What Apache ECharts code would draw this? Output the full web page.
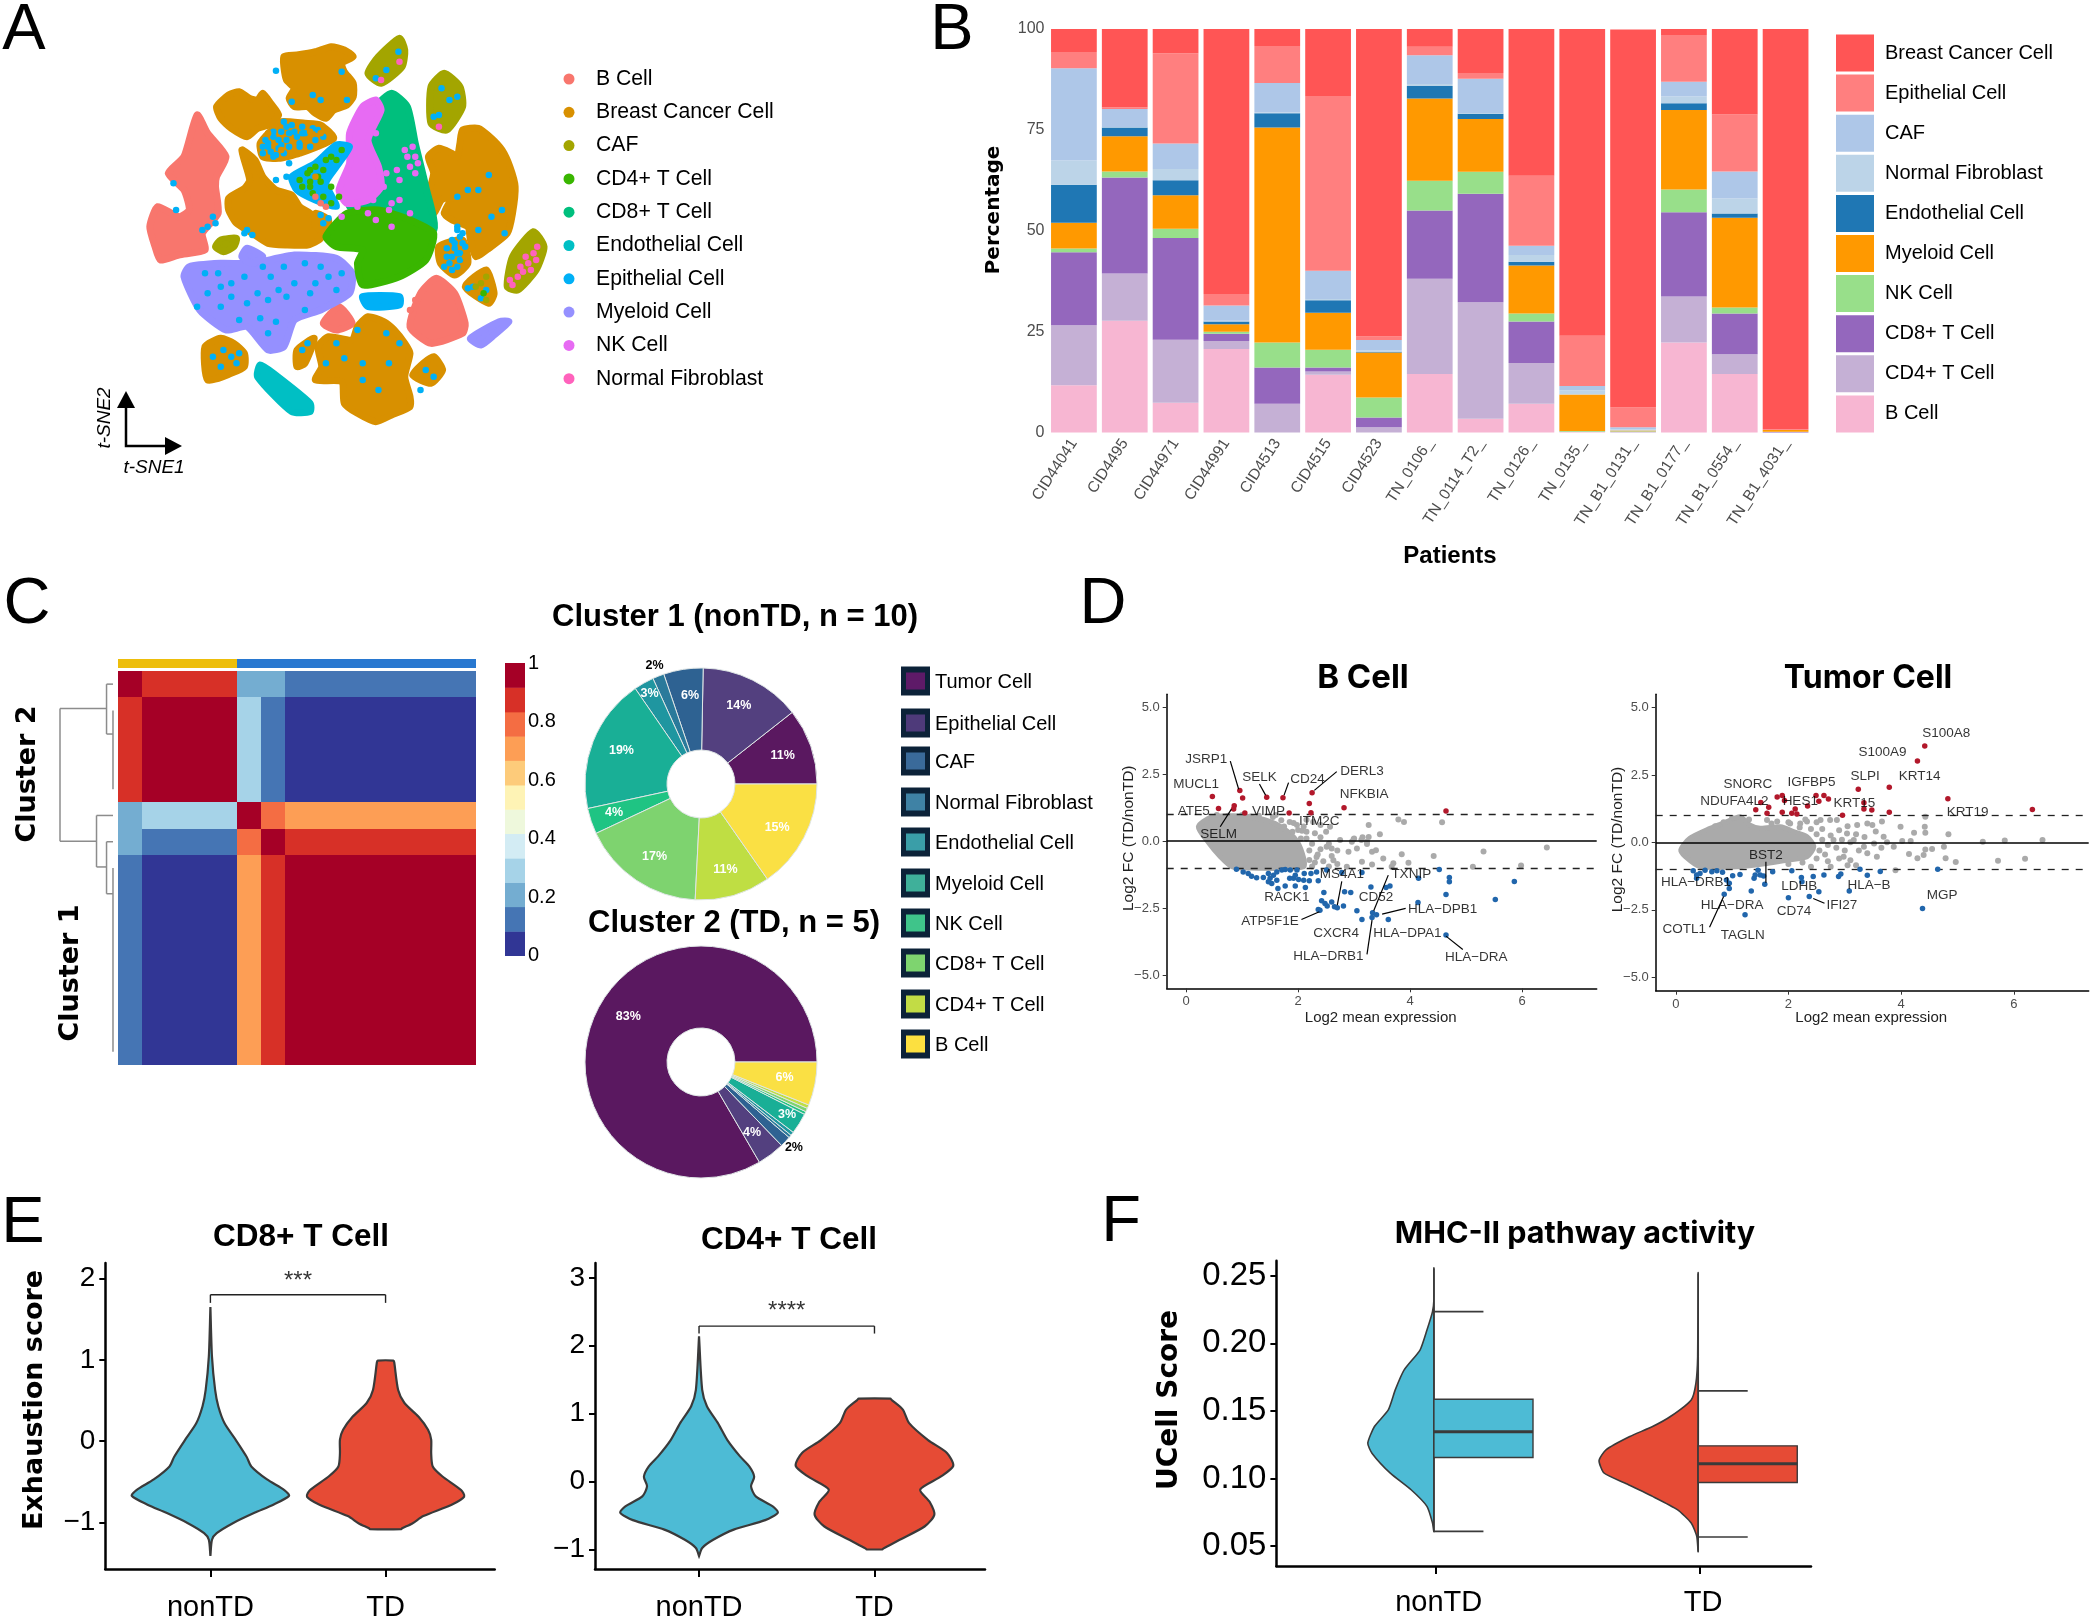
<!DOCTYPE html>
<html><head><meta charset="utf-8">
<style>html,body{margin:0;padding:0;background:#fff}#c{width:2096px;height:1624px}</style>
<script src="https://cdn.jsdelivr.net/npm/echarts@6/dist/echarts.min.js"></script>
</head><body><div id="c"></div>
<script>
// ---------- Panel A: t-SNE regions (t-SNE plot units), one array per cell type
const tsneBreast = [
 [540,170,565,165,600,155,630,140,655,150,672,170,650,190,655,215,672,250,672,290,660,315,635,330,620,355,600,340,585,320,560,320,550,295,560,265,545,240,540,200],
 [412,320,435,285,455,275,475,295,490,300,500,280,515,310,530,345,510,375,490,385,470,410,440,385,420,355],
 [460,450,485,480,500,530,525,570,555,585,570,620,590,640,608,680,610,715,585,735,545,735,510,730,480,700,450,670,435,630,435,595,465,565,475,540],
 [600,640,625,660,620,690,600,680],
 [880,390,910,385,935,415,955,450,970,500,980,560,975,640,965,700,930,745,905,770,895,720,890,680,860,660,845,640,860,590,840,600,825,640,815,590,825,520,815,470,835,445,860,460,870,470,875,430],
 [700,950,730,965,750,990,770,1030,780,1060,770,1130,780,1190,780,1220,745,1245,715,1265,680,1240,655,1210,650,1145,600,1140,612,1100,605,1040,625,1010,670,1020,680,980],
 [390,1040,420,1015,445,1030,465,1060,465,1100,440,1120,395,1140],
 [565,1050,598,1015,580,1090,565,1100],
 [805,1090,825,1070,842,1110,820,1150,785,1125],
 [495,430,520,385,535,365,580,370,610,375,635,415,570,460,530,475,500,470],
 [835,740,880,720,890,790,865,825,838,790],[885,860,925,810,940,880,930,910]];
const tsneBCell = [
 [375,345,395,400,430,470,412,530,410,560,415,640,385,700,390,750,340,765,305,780,295,740,285,680,300,620,340,650,360,630,350,570,320,520,350,470],
 [800,880,830,835,865,880,885,970,880,1000,820,1030,780,980],
 [615,970,645,920,670,970,640,990]];
const tsneCAF = [
 [760,115,770,150,765,200,725,250,700,220,720,170],
 [845,220,875,260,880,320,850,390,820,370,820,260],
 [1015,695,1035,740,1020,810,985,870,965,860,975,770],
 [420,720,450,715,445,740,425,755,410,740]];
const tsneCD8 = [[745,280,775,320,790,430,810,560,825,690,720,650,665,620,690,520,700,410,715,320]];
const tsneNK = [[715,300,725,330,700,420,720,500,725,560,700,600,660,610,645,570,665,490,665,400,690,320]];
const tsneCD4 = [[660,640,720,630,780,660,825,700,810,780,760,830,690,855,680,790,690,750,640,740,620,710]];
const tsneMyeloid = [
 [360,800,420,790,480,790,560,765,640,775,670,820,665,880,610,930,560,960,540,1040,510,1050,470,980,430,990,380,930,350,830],
 [470,745,500,770,480,790,460,770],[895,1015,950,965,968,965,940,1005,915,1035]];
const tsneEndothelial = [[495,1095,520,1120,590,1210,590,1235,555,1235,490,1130]];
const tsneEpithelial = [
 [690,890,760,890,760,915,700,920],
 [555,530,600,490,640,435,665,440,640,500,620,550,640,620,600,600,565,570]];
const dotsEpithelial = [[525,212],[555,305],[595,285],[650,215],[660,300],[610,300],[540,365],[555,375],[575,380],[595,385],[520,395],[535,395],[550,400],[565,410],[530,420],[510,440],[515,455],[540,460],[550,440],[505,420],[570,430],[590,440],[545,380],[560,395],[535,435],[525,465],[580,400],[605,390],[500,460],[615,410],[545,420],[510,430],[530,445],[570,440],[520,470],[550,490],[525,540],[545,530],[465,700],[480,705],[470,690],[610,645],[615,670],[625,655],[335,630],[330,550],[405,650],[395,680],[410,670],[385,690],[390,820],[415,820],[440,850],[420,860],[465,830],[500,800],[515,830],[540,800],[580,790],[610,800],[625,830],[650,820],[600,850],[560,850],[530,870],[490,880],[510,900],[545,890],[470,910],[440,890],[395,880],[375,920],[420,920],[580,930],[525,965],[495,955],[455,960],[510,1000],[640,870],[590,880],[640,1030],[655,1075],[690,1090],[720,1170],[690,1140],[740,1090],[620,1090],[760,1030],[735,1000],[680,990],[425,1050],[440,1070],[405,1070],[450,1090],[420,1100],[455,1060],[575,1050],[585,1030],[810,1110],[825,1130],[800,1170],[930,525],[910,570],[890,570],[870,590],[955,630],[935,650],[910,690],[960,700],[880,700],[870,680],[860,720],[875,760],[850,770],[870,800],[885,740],[865,745],[855,790],[870,690],[875,710],[865,730],[880,730],[870,760],[860,770],[875,780],[850,745],[845,800],[860,810],[900,860],[925,870],[890,865],[915,895],[735,210],[715,235],[758,155],[840,265],[855,300],[870,290],[835,345],[825,350],[500,440],[520,410],[600,420],[575,400]];
const dotsNK = [[770,450],[780,500],[730,560],[700,640],[740,630],[790,470],[680,620],[710,600],[760,600],[745,610],[715,660],[650,650],[745,680],[780,640],[735,520],[760,540],[715,400],[785,440],[775,470],[790,520],[795,490],[755,510]];
const dotsFibroblast = [[1015,760],[1005,790],[1020,780],[990,800],[985,830],[975,855],[1000,770],[1010,810],[995,815],[970,840],[1022,740],[835,380],[725,240],[760,185]];
const dotsCD4 = [[570,540],[585,520],[600,500],[615,510],[630,470],[650,450],[640,480],[575,560],[595,580],[615,590],[630,610],[605,530],[590,545],[590,560],[610,545],[590,510],[620,480],[645,590],[630,560],[920,880]];
const dotsCAF = [[430,730],[925,830],[915,850],[905,860],[925,900]];
const dotsBreast = [[510,400],[580,420],[610,400],[590,395],[535,450],[885,770],[600,530]];
const dotsB = [[600,590],[610,610],[620,620],[790,900],[780,930]];
const tsneNames = ['B Cell','Breast Cancer Cell','CAF','CD4+ T Cell','CD8+ T Cell','Endothelial Cell','Epithelial Cell','Myeloid Cell','NK Cell','Normal Fibroblast'];
const tsneColors = ['#F8766D','#D89000','#A3A500','#39B600','#00BF7D','#00BFC4','#00B0F6','#9590FF','#E76BF3','#FF62BC'];

// ---------- Panel B
const patients = ['CID44041','CID4495','CID44971','CID44991','CID4513','CID4515','CID4523','TN_0106_','TN_0114_T2_','TN_0126_','TN_0135_','TN_B1_0131_','TN_B1_0177_','TN_B1_0554_','TN_B1_4031_'];
const pctBCell       = [11.7,27.7,7.4,20.7,0,14.3,0,14.5,3.4,7.1,0.1,0,22.3,14.5,0];
const pctCD4         = [14.9,11.7,15.6,2,7.1,0.8,1.3,23.6,28.9,10.1,0,0.1,11.4,4.9,0];
const pctCD8         = [18.1,23.8,25.2,1.8,9,1,2.4,16.9,26.9,10.3,0.1,0.1,20.9,10.1,0.1];
const pctNK          = [0.9,1.5,2.3,0.5,6.2,4.4,5,7.4,5.4,2,0.2,0.1,5.6,1.5,0.1];
const pctMyeloid     = [6.4,8.7,8.3,1.8,53.3,9.2,11.1,20.4,13.1,11.9,9,0.2,19.7,22.2,0.4];
const pctEndothelial = [9.4,2.2,3.7,0.7,3.5,3.1,0.2,3.1,1.3,0.9,0,0,1.7,1.1,0];
const pctFibroblast  = [6,0.1,2.8,0.2,0.2,0.3,0.4,0.5,0.1,1.7,1.1,0.3,1.7,3.7,0];
const pctCAF         = [22.9,4.5,6.3,3.8,7.3,7,2.5,7.1,8.6,2.3,1,0.5,3.6,6.7,0];
const pctEpithelial  = [4,0.4,22.4,2.8,9.2,43.3,0.9,2.1,1.4,17.3,12.5,4.9,11.6,14.1,0.2];
const pctBreast      = [5.7,19.4,6,65.7,4.2,16.6,76.2,4.4,10.9,36.4,76,93.7,1.5,21.2,99.2];
const stackNames = ['B Cell','CD4+ T Cell','CD8+ T Cell','NK Cell','Myeloid Cell','Endothelial Cell','Normal Fibroblast','CAF','Epithelial Cell','Breast Cancer Cell'];
const stackColors = ['#F7B6D2','#C5B0D5','#9467BD','#98DF8A','#FF9900','#1F77B4','#BCD4E8','#AEC7E8','#FF7F7F','#FF5555'];
const stackLegend = ['Breast Cancer Cell','Epithelial Cell','CAF','Normal Fibroblast','Endothelial Cell','Myeloid Cell','NK Cell','CD8+ T Cell','CD4+ T Cell','B Cell'];

// ---------- Panel C
const row0 = [1,.88,.88,.88,.88,.21,.21,.13,.13,.13,.13,.13,.13,.13,.13];
const row1 = [.88,1,1,1,1,.29,.13,.04,.04,.04,.04,.04,.04,.04,.04];
const row5 = [.21,.29,.29,.29,.29,1,.79,.71,.71,.71,.71,.71,.71,.71,.71];
const row6 = [.21,.13,.13,.13,.13,.79,1,.88,.88,.88,.88,.88,.88,.88,.88];
const row7 = [.13,.04,.04,.04,.04,.71,.88,1,1,1,1,1,1,1,1];
const consensus = [row0,row1,row1,row1,row1,row5,row6,row7,row7,row7,row7,row7,row7,row7,row7];
const annotation = [1,1,1,1,1,2,2,2,2,2,2,2,2,2,2];
const annotationColors = ['','#EDBE0B','#2878D0'];
const binEdges = [0,.083,.167,.25,.333,.417,.5,.583,.667,.75,.833,.917,1];
const binColors = ['#313695','#4575B4','#74ADD1','#A6D3E8','#D3ECF4','#EEF8DC','#FEF3B5','#FDCB7A','#FD9E55','#F46D43','#D73027','#A50026'];
const dendroSegments = [[81,1.43,81,6.48],[81,1.43,16,1.43],[16,.5,16,2.4],[16,.5,7,.5],[16,2.4,7,2.4],[7,1.5,7,4.5],[81,6.48,30,6.48],[30,5.5,30,7.46],[30,5.5,7,5.5],[30,7.46,16,7.46],[16,6.5,16,8.48],[16,6.5,7,6.5],[16,8.48,7,8.48],[7,7.5,7,14.5]];
const pieNames = ['Tumor Cell','Epithelial Cell','CAF','Normal Fibroblast','Endothelial Cell','Myeloid Cell','NK Cell','CD8+ T Cell','CD4+ T Cell','B Cell'];
const pieColors = ['#5A1860','#53407F','#2E6292','#2A7A9B','#1F96A0','#19AF96','#1FC483','#7ED36F','#BFDE43','#FAE044'];
const pieLegendColors = ['#5E1A68','#4E3A7A','#3A6A9A','#3F82A5','#3A9EA8','#3FB09A','#3FC48A','#7ED46F','#C2DC45','#FCE040'];
const cluster1Values = [10.6,14.1,5.5,1.6,2.8,18.8,3.6,17.2,10.5,15.3];
const cluster1Labels = ['11%','14%','6%','2%','3%','19%','4%','17%','11%','15%'];
const cluster2Values = [82.9,3.8,1.5,0.4,0.5,2.9,0.4,0.5,0.5,6];
const cluster2Labels = ['83%','4%','2%','','','3%','','','','6%'];

// ---------- Panel D: B Cell
const bGray = [[1.92,.68],[2.07,.39],[2.27,.72],[2.4,.6],[2.57,.54],[3.26,.6],[3.23,-.02],[3.26,.16],[3.46,.26],[3.79,.81],[3.89,.72],[2.99,.07],[3.13,.04],[3.23,-.11],[3.05,-.27],[3.32,-.4],[3.39,-.34],[3.52,-.65],[3.7,-.83],[3.85,-.49],[3.97,-.81],[4.42,-.55],[4.57,.71],[5.31,-.39],[6.44,-.24],[5.12,-.96],[5.98,-.91],[3.14,-.77],[3.32,-.87],[3.67,-.96],[2.87,-.96],[2.63,-.71],[2.33,-.59],[2.51,-.21],[2.6,-.27],[2.96,-.02],[2.75,.04],[2.9,-.4],[3.0,.1],[3.15,.15],
 [.55,.98],[.75,.95],[1.0,.98],[1.3,.95],[1.55,.9],[1.7,.78],[1.85,.72],[1.98,.6],[2.1,.55],[2.15,.35],[2.0,.42],[2.15,.1],[2.3,.3],[2.4,.15],[2.5,.35],[2.25,-.1],[2.4,-.3],[2.55,-.1],[2.35,-.5],[2.2,-.7],[2.45,-.75],[2.25,-.95],[2.6,-.55],[2.7,-.85],[2.55,-.95],[2.7,-.35],[1.75,.55],[1.9,.35],[2.05,.1],[2.2,-.35],[2.3,-.8],[2.15,.8],[1.6,.98],[1.15,.92]];
const bRed = [[.47,1.67],[.58,1.22],[.86,1.32],[.85,1.2],[.96,1.89],[1.01,1.61],[1.05,1.05],[1.44,1.64],[1.73,1.62],[1.84,1.05],[2.2,1.41],[2.23,1.06],[2.25,1.81],[2.82,1.25],[4.64,1.13]];
const bBlue = [[.9,-1.05],[1.02,-1.15],[1.11,-1.21],[1.17,-1.31],[1.26,-1.37],[1.38,-1.36],[1.47,-1.21],[1.5,-1.39],[1.56,-1.27],[1.62,-1.15],[1.53,-1.58],[1.47,-1.52],[1.62,-1.46],[1.64,-1.77],[1.71,-1.08],[1.77,-1.06],[1.86,-1.08],[1.98,-1.08],[1.77,-1.68],[1.85,-1.39],[1.92,-1.39],[1.95,-1.27],[1.95,-1.68],[2.01,-1.43],[2.1,-1.46],[2.13,-1.73],[2.2,-1.48],[2.23,-1.21],[2.11,-1.21],[2.36,-1.48],[2.33,-1.15],[2.51,-1.08],[2.46,-1.92],[2.42,-2.23],[2.48,-2.33],[2.52,-2.42],[2.6,-2.27],[2.65,-2.45],[2.7,-2.49],[2.81,-2.42],[2.83,-1.89],[2.94,-1.92],[2.39,-2.58],[2.36,-2.55],[2.78,-1.17],[3.14,-1.17],[3.3,-1.71],[3.05,-2.6],[3.14,-2.93],[3.33,-2.68],[3.4,-2.75],[3.32,-2.85],[3.57,-1.73],[3.64,-1.68],[3.61,-2.93],[4.15,-1.39],[4.14,-2.29],[4.52,-1.06],[4.64,-1.99],[4.7,-1.36],[4.7,-1.52],[4.64,-3.51],[5.52,-2.18],[5.86,-1.51]];
const bDense = [.22,.54,.45,.9,.85,.95,1.3,.85,1.6,.65,1.9,.2,2.05,-.3,2.1,-.95,1.14,-1,.82,-.95,.6,-.55,.4,-.05];
const bLabels = [['JSRP1',.36,3.05],['MUCL1',.18,2.14],['SELK',1.31,2.39],['CD24',2.17,2.31],['DERL3',3.14,2.6],['NFKBIA',3.18,1.74],['ATF5',.14,1.13],['VIMP',1.47,1.12],['ITM2C',2.38,.73],['SELM',.58,.25],['MS4A1',2.78,-1.25],['TXNIP',4.02,-1.23],['RACK1',1.8,-2.1],['CD52',3.39,-2.09],['ATP5F1E',1.5,-2.99],['HLA\u2212DPB1',4.58,-2.53],['CXCR4',2.68,-3.45],['HLA\u2212DPA1',3.95,-3.45],['HLA\u2212DRB1',2.54,-4.31],['HLA\u2212DRA',5.18,-4.33]];
const bLinks = [[.79,2.99,.94,1.94],[1.31,2.14,1.42,1.72],[1.83,2.19,1.75,1.72],[2.69,2.6,2.29,1.9],[.81,1.2,.61,.54],[2.78,-1.5,2.7,-2.39],[3.61,-1.27,3.35,-2.6],[3.92,-2.51,3.5,-2.73],[2.06,-2.93,2.38,-2.64],[3.23,-4.23,3.32,-2.95],[4.94,-4.05,4.64,-3.55]];

// ---------- Panel D: Tumor Cell
const tGray = [[1.62,.83],[1.8,.77],[2.03,.7],[2.21,.7],[2.33,.77],[2.57,.83],[2.74,.83],[2.86,.83],[3.22,.64],[3.4,.7],[3.49,.64],[3.66,.77],[3.69,.21],[3.99,.58],[4.23,.36],[4.43,.95],[4.42,.58],[4.43,.36],[4.84,.3],[4.02,.05],[4.17,.05],[3.87,-.16],[4.14,-.43],[4.29,-.59],[4.4,-.47],[4.43,-.26],[4.55,-.25],[4.76,-.16],[4.79,-.59],[4.97,-.73],[5.45,.02],[5.84,.07],[6.51,.09],[5.72,-.68],[6.2,-.61],[3.9,-1.03],[3.52,-.04],[3.16,.09],[2.98,-.53],[3.1,-.66],[3.57,-.53],[3.34,-.16],[2.8,.09],[3.04,.33],
 [2.5,.3],[2.6,.1],[2.7,-.1],[2.55,-.3],[2.65,-.45],[2.75,.25],[2.85,-.2],[2.95,.1],[2.6,.5],[2.4,.5],[2.2,.55],[2.0,.75],[1.7,.7],[1.3,.85],[1.0,.9],[.85,.75],[.7,.6],[2.5,-.6],[2.7,-.7],[2.9,-.6],[3.0,-.3],[3.1,0],[3.2,.3],[3.25,-.3],[3.4,-.4],[3.35,.2],[3.55,.4],[3.65,-.2],[3.75,0],[2.25,-.75],[2.0,-.8],[2.4,-.9],[2.75,-.9],[3.05,-.85],[3.2,-.85],[2.9,.45],[3.05,.6],[2.5,.75],[2.3,.85]];
const tRed = [[1.42,1.21],[1.51,1.48],[1.62,1.08],[1.65,1.3],[1.8,1.68],[1.89,1.74],[1.89,1.12],[1.93,1.55],[2.06,1.08],[2.12,1.24],[2.15,1.05],[2.34,1.35],[2.49,1.74],[2.54,1.52],[2.63,1.74],[2.71,1.61],[2.96,1.01],[3.24,1.97],[3.34,1.47],[3.34,1.24],[3.48,1.2],[3.79,2.04],[3.79,1.12],[4.29,3.02],[4.42,3.57],[4.83,1.62],[6.33,1.22]];
const tBlue = [[.31,-1.05],[.37,-1.21],[.37,-1.33],[.43,-1.15],[.52,-1.03],[.64,-1.09],[.73,-1.05],[.83,-1.11],[.9,-1.4],[.95,-1.52],[.95,-1.71],[.86,-1.92],[1.01,-1.24],[1.14,-1.19],[1.34,-1.8],[1.23,-2.68],[1.39,-1.33],[1.41,-1.21],[1.46,-1.03],[1.5,-1.21],[1.56,-1.25],[1.58,-1.55],[1.72,-1.09],[2.06,-1.05],[2,-2.05],[2.23,-1.3],[2.24,-1.46],[2.37,-2.01],[2.44,-1.27],[2.54,-1.83],[2.63,-1.21],[2.89,-1.27],[2.93,-1.17],[3.08,-1.8],[3.27,-1],[3.4,-1.22],[3.63,-1.08],[4.38,-2.45],[4.65,-1]];
const tDense = [.09,-.28,.25,.15,.61,.52,.91,.77,1.14,.95,1.32,.64,1.5,.52,1.86,.58,2.09,.4,2.33,.21,2.45,-.16,2.33,-.53,1.97,-.66,1.62,-.78,1.14,-.9,.43,-.9,.17,-.53];
const tLabels = [['S100A8',4.8,4.04],['S100A9',3.67,3.33],['SLPI',3.36,2.46],['KRT14',4.33,2.46],['SNORC',1.28,2.16],['IGFBP5',2.41,2.22],['NDUFA4L2',1.04,1.52],['HES1',2.21,1.52],['KRT15',3.17,1.45],['KRT19',5.18,1.11],['BST2',1.6,-.48],['HLA\u2212DRB1',.36,-1.49],['LDHB',2.19,-1.61],['HLA\u2212B',3.43,-1.6],['MGP',4.73,-1.97],['HLA\u2212DRA',1,-2.32],['IFI27',2.95,-2.34],['CD74',2.1,-2.56],['COTL1',.15,-3.23],['TAGLN',1.19,-3.45]];
const tLinks = [[1.6,-.72,1.6,-1.5],[.6,-3.15,.85,-2.01],[2.64,-2.26,2.44,-2.08]];
const maTicksX = [0,2,4,6];
const maTicksY = [-5,-2.5,0,2.5,5];

// ---------- Panel E violin profiles: score, relative width
const cd8NonScore = [1.65,1.04,.63,.43,.22,.02,-.19,-.31,-.47,-.6,-.67,-.78,-.88,-1.01,-1.13,-1.21,-1.41];
const cd8NonWidth = [0,.02,.06,.1,.18,.32,.46,.52,.72,.94,1,.8,.56,.28,.08,.02,0];
const cd8TdScore = [.99,.97,.63,.47,.3,.14,.02,-.15,-.31,-.43,-.6,-.68,-.78,-.92,-1.01,-1.07,-1.08];
const cd8TdWidth = [.1,.11,.16,.24,.42,.54,.58,.58,.6,.72,.96,1,.84,.48,.34,.21,.2];
const cd4NonScore = [2.14,1.35,1.11,.86,.61,.37,.22,.07,-.07,-.22,-.37,-.46,-.57,-.71,-.86,-.98,-1.1];
const cd4NonWidth = [0,.04,.1,.24,.36,.52,.64,.7,.66,.72,.94,1,.84,.44,.18,.04,0];
const cd4TdScore = [1.22,1.2,1.06,.86,.61,.42,.23,.07,-.12,-.3,-.49,-.66,-.86,-.99,-1];
const cd4TdWidth = [.2,.22,.36,.44,.68,.92,1,.84,.58,.7,.76,.64,.32,.11,.1];

// ---------- Panel F half violins + boxes
const mhcNonScore = [.2554,.232,.2234,.2098,.195,.1803,.1655,.1507,.1384,.1261,.1187,.1039,.0916,.0793,.067,.0608];
const mhcNonWidth = [0,0,.014,.07,.14,.3,.39,.46,.6,.667,.625,.44,.23,.07,.014,0];
const mhcTdScore = [.2517,.1901,.1704,.1581,.1458,.1384,.131,.1212,.1133,.104,.0966,.0867,.0769,.067,.0571,.046];
const mhcTdWidth = [0,.005,.023,.07,.28,.46,.69,.93,1,.95,.74,.46,.21,.07,.014,0];
const mhcNonBox = [.0608,.1155,.1345,.1586,.2234]; // low, q1, median, q3, high
const mhcTdBox = [.0567,.097,.1108,.1241,.1648];
const groups = ['nonTD','TD'];
const violinBlue = '#4DBBD5', violinRed = '#E64B35';

// ---------- helpers
const FONT = '"Liberation Sans", Arial, sans-serif';
const WIDE = '"DejaVu Sans", sans-serif';
const grid = [], xAxis = [], yAxis = [], series = [], graphic = [];
function addGrid(g, xa, ya) {
  grid.push(Object.assign({containLabel:false}, g));
  xAxis.push(Object.assign({gridIndex:grid.length-1}, xa));
  yAxis.push(Object.assign({gridIndex:grid.length-1}, ya));
  return grid.length-1;
}
const hiddenVal = (min,max,extra) => Object.assign({type:'value',show:false,min,max,splitLine:{show:false}},extra||{});
function text(t,x,y,size,opt) {
  opt = opt||{};
  graphic.push({type:'text',x,y,rotation:opt.rot||0,z:50,silent:true,style:{
    text:t,fill:opt.color||'#000',textAlign:opt.align||'center',textVerticalAlign:'middle',verticalAlign:'middle',
    font:(opt.style?opt.style+' ':'')+(opt.weight||'normal')+' '+size+'px '+(opt.family||FONT)}});
}
function rect(x,y,w,h,fill) { graphic.push({type:'rect',z:40,silent:true,shape:{x,y,width:w,height:h},style:{fill}}); }
function segments(gi, segs, color, width, z) {
  series.push({type:'custom',coordinateSystem:'cartesian2d',xAxisIndex:gi,yAxisIndex:gi,silent:true,z:z||5,clip:false,
    data:segs.map((s,i)=>[i]),
    renderItem:(p,api)=>{const s=segs[p.dataIndex],a=api.coord([s[0],s[1]]),b=api.coord([s[2],s[3]]);
      return {type:'line',shape:{x1:a[0],y1:a[1],x2:b[0],y2:b[1]},style:{stroke:color,lineWidth:width}};}});
}
function polygons(gi, polys, color, lw, z, smooth) {
  series.push({type:'custom',coordinateSystem:'cartesian2d',xAxisIndex:gi,yAxisIndex:gi,silent:true,z:z||2,clip:false,
    data:polys.map((s,i)=>[i]),
    renderItem:(p,api)=>{const f=polys[p.dataIndex],pts=[];for(let i=0;i<f.length;i+=2)pts.push(api.coord([f[i],f[i+1]]));
      return {type:'polygon',shape:{points:pts,smooth:smooth||0},style:{fill:color,stroke:color,lineWidth:lw,lineJoin:'round'}};}});
}
function dots(gi, data, color, size, z) {
  series.push({type:'scatter',xAxisIndex:gi,yAxisIndex:gi,data,symbolSize:size,silent:true,z:z||3,itemStyle:{color,opacity:1},clip:false});
}
// cell matrix through the category scales; edges snapped to whole pixels so neighbours leave no seam
function cells(gi, data, colorOf) {
  series.push({type:'custom',coordinateSystem:'cartesian2d',xAxisIndex:gi,yAxisIndex:gi,silent:true,z:2,
    data:data.map((d,i)=>[i]),
    renderItem:(p,api)=>{const d=data[p.dataIndex],c=api.coord([d[0],d[1]]),s=api.size([1,1]);
      const x0=Math.round(c[0]-s[0]/2),x1=Math.round(c[0]+s[0]/2),y0=Math.round(c[1]-s[1]/2),y1=Math.round(c[1]+s[1]/2);
      return {type:'rect',shape:{x:x0,y:y0,width:x1-x0,height:y1-y0},style:{fill:colorOf(d[2])}};}});
}

// ---------- Panel letters
[['A',24,31],['B',952,31],['C',27,605],['D',1103,605],['E',23,1224],['F',1121,1223]].forEach(l=>text(l[0],l[1],l[2],65));

// ---------- Panel A
const ga = addGrid({left:0,top:0,width:820,height:520},hiddenVal(0,1560),hiddenVal(0,1560,{inverse:true}));
polygons(ga,tsneBCell,tsneColors[0],7,2,.2);
polygons(ga,tsneBreast,tsneColors[1],7,2,.2);
polygons(ga,tsneCAF,tsneColors[2],7,2,.2);
polygons(ga,tsneMyeloid,tsneColors[7],7,2,.2);
polygons(ga,tsneCD8,tsneColors[4],7,2,.2);
polygons(ga,tsneNK,tsneColors[8],7,2,.2);
polygons(ga,tsneCD4,tsneColors[3],7,2,.2);
polygons(ga,tsneEndothelial,tsneColors[5],7,2,.2);
polygons(ga,tsneEpithelial,tsneColors[6],7,2,.2);
dots(ga,dotsEpithelial,tsneColors[6],6.5,3);
dots(ga,dotsNK,tsneColors[8],6.5,3);
dots(ga,dotsFibroblast,tsneColors[9],6.5,3);
dots(ga,dotsCD4,tsneColors[3],6.5,3);
dots(ga,dotsCAF,tsneColors[2],6.5,3);
dots(ga,dotsBreast,tsneColors[1],6.5,3);
dots(ga,dotsB,tsneColors[0],6.5,3);
tsneNames.forEach((n,i)=>{const y=79+i*33.3;
  graphic.push({type:'circle',z:40,silent:true,shape:{cx:569,cy:y,r:5.5},style:{fill:tsneColors[i]}});
  text(n,596,y,21.2,{align:'left'});});
graphic.push({type:'polyline',z:40,silent:true,shape:{points:[[126,405],[126,446],[170,446]]},style:{stroke:'#000',fill:null,lineWidth:2.5}});
graphic.push({type:'polygon',z:40,silent:true,shape:{points:[[126,391],[117,408],[135,408]]},style:{fill:'#000'}});
graphic.push({type:'polygon',z:40,silent:true,shape:{points:[[182,446],[165,437],[165,455]]},style:{fill:'#000'}});
text('t-SNE2',105,418,19,{style:'italic',rot:Math.PI/2});
text('t-SNE1',154,468,19,{style:'italic'});

// ---------- Panel B
const gb = addGrid({left:1048.5,top:29,width:762.5,height:403.5},
  {type:'category',data:patients,axisLine:{show:false},axisTick:{show:false},
   axisLabel:{rotate:57,interval:0,fontSize:15.5,color:'#4d4d4d',fontFamily:FONT,margin:8}},
  {type:'value',min:0,max:100,interval:25,splitLine:{show:false},axisLine:{show:false},axisTick:{show:false},
   axisLabel:{fontSize:16,color:'#4d4d4d',fontFamily:FONT,margin:4}});
[pctBCell,pctCD4,pctCD8,pctNK,pctMyeloid,pctEndothelial,pctFibroblast,pctCAF,pctEpithelial,pctBreast].forEach((d,i)=>{
  series.push({type:'bar',name:stackNames[i],stack:'p',xAxisIndex:gb,yAxisIndex:gb,data:d,barWidth:'90%',silent:true,itemStyle:{color:stackColors[i]}});
});
stackLegend.forEach((n,i)=>{const y=53+i*40.1;
  rect(1836,y-18.5,38,37,stackColors[stackNames.indexOf(n)]);
  text(n,1885,y,20,{align:'left'});});
text('Percentage',994,210,20,{weight:'bold',rot:Math.PI/2,family:WIDE});
text('Patients',1450,556,24,{weight:'bold'});

// ---------- Panel C heatmap
const ghAnn = addGrid({left:118,top:659,width:358,height:9},
  {type:'category',show:false,data:annotation.map((a,i)=>i)},{type:'category',show:false,data:['a']});
cells(ghAnn,annotation.map((v,i)=>[i,0,v]),v=>annotationColors[v]);
const gh = addGrid({left:118,top:671,width:358,height:394},
  {type:'category',show:false,data:row0.map((a,i)=>i)},
  {type:'category',show:false,inverse:true,data:consensus.map((a,i)=>i)});
const heatData = []; consensus.forEach((r,y)=>r.forEach((v,x)=>heatData.push([x,y,v])));
cells(gh,heatData,v=>binColors[binEdges.findIndex((e,i)=>v>=e&&v<=binEdges[i+1])]);
const gd = addGrid({left:60,top:671,width:58,height:394},hiddenVal(0,81,{inverse:true}),hiddenVal(0,15,{inverse:true}));
segments(gd,dendroSegments,'#8c8c8c',1.5);
const gcb = addGrid({left:505,top:663,width:20,height:292.5},hiddenVal(0,1),
  {type:'value',position:'right',min:0,max:1,interval:.2,splitLine:{show:false},axisLine:{show:false},axisTick:{show:false},
   axisLabel:{fontSize:20,color:'#000',fontFamily:FONT,margin:3}});
series.push({type:'custom',coordinateSystem:'cartesian2d',xAxisIndex:gcb,yAxisIndex:gcb,silent:true,
  data:binColors.map((c,i)=>[i]),
  renderItem:(p,api)=>{const i=p.dataIndex,a=api.coord([0,binEdges[i+1]]),b=api.coord([1,binEdges[i]]);
    return {type:'rect',shape:{x:a[0],y:a[1],width:b[0]-a[0],height:b[1]-a[1]+.5},style:{fill:binColors[i]}};}});
text('Cluster 2',28,774,27,{weight:'bold',rot:Math.PI/2,family:WIDE});
text('Cluster 1',71,973,27,{weight:'bold',rot:Math.PI/2,family:WIDE});

// ---------- Panel C pies
function pie(cx,cy,vals,labs,outerIdx,offsets){
  series.push({type:'pie',center:[cx,cy],radius:[34,116],startAngle:0,clockwise:false,silent:true,
    itemStyle:{borderColor:'#dfe6e6',borderWidth:1},emphasis:{disabled:true},
    data:vals.map((v,i)=>({name:pieNames[i],value:v,itemStyle:{color:pieColors[i]},
      label:{show:!!labs[i],formatter:labs[i],position:i===outerIdx?'outside':'inside',offset:offsets[i],
        color:i===outerIdx?'#000':'#fff',fontWeight:'bold',fontSize:12.5,fontFamily:FONT},
      labelLine:{show:false,length:2,length2:0}}))});
}
pie(701,784,cluster1Values,cluster1Labels,3,[[8,-3],[3,-9],[1,-11],[11,-9],[-13,-23],[-7,-5],[-13,4],[-3,8],[3,11],[7,7]]);
pie(701,1062,cluster2Values,cluster2Labels,2,[[-5,-7],[4,8],[-7,5],[0,0],[0,0],[20,11],[0,0],[0,0],[0,0],[7,1]]);
text('Cluster 1 (nonTD, n = 10)',735,617,31,{weight:'bold'});
text('Cluster 2 (TD, n = 5)',734,923,31,{weight:'bold'});
const legY=[681,723,761,802,842,883,923,963,1004,1044];
pieNames.forEach((n,i)=>{
  rect(901,legY[i]-14.5,29,29,'#0C2238');
  rect(906,legY[i]-8.5,19,17,pieLegendColors[i]);
  text(n,935,legY[i]+1,20,{align:'left'});});

// ---------- Panel D
function maPlot(left,width,top,height,xMin,yMin,gray,dense,red,blue,labels,links,title,tx,ylx,tsize){
  const axis = {axisLine:{onZero:false,lineStyle:{color:'#000',width:1.5}},splitLine:{show:false}};
  const g = addGrid({left,top,width,height},
    Object.assign({type:'value',min:xMin,max:7.33,position:'bottom',
      axisTick:{customValues:maTicksX,length:4,lineStyle:{color:'#333'}},
      axisLabel:{customValues:maTicksX,fontSize:13,color:'#4d4d4d',fontFamily:FONT,margin:7}},axis),
    Object.assign({type:'value',min:yMin,max:5.49,position:'left',
      axisTick:{customValues:maTicksY,length:4,lineStyle:{color:'#333'}},
      axisLabel:{customValues:maTicksY,fontSize:13,color:'#4d4d4d',fontFamily:FONT,margin:7,
        formatter:v=>(v<0?'\u2212':'')+Math.abs(v).toFixed(1)}},axis));
  polygons(g,[dense],'#AAAAAA',5,2,.25);
  dots(g,gray,'#AAAAAA',6,3);
  series.push({type:'scatter',xAxisIndex:g,yAxisIndex:g,data:red,symbolSize:5.5,silent:true,z:4,itemStyle:{color:'#B2182B',opacity:1},
    markLine:{silent:true,symbol:'none',label:{show:false},animation:false,z:4,data:[
      {yAxis:0,lineStyle:{color:'#000',type:'solid',width:1.5}},
      {yAxis:1,lineStyle:{color:'#222',type:[7,7],width:1.3}},
      {yAxis:-1,lineStyle:{color:'#222',type:[7,7],width:1.3}}]}});
  dots(g,blue,'#2166AC',5.5,4);
  segments(g,links,'#000',1.2,6);
  series.push({type:'scatter',xAxisIndex:g,yAxisIndex:g,symbolSize:1,silent:true,z:7,itemStyle:{color:'transparent'},
    data:labels.map(l=>({name:l[0],value:[l[1],l[2]]})),
    label:{show:true,position:'inside',formatter:p=>p.name,fontSize:13.5,color:'#000',fontFamily:FONT}});
  text(title,tx,678,tsize,{weight:'bold',family:'Inter, sans-serif'});
  text('Log2 mean expression',left+width/2-1,1018,15,{color:'#222'});
  text('Log2 FC (TD/nonTD)',ylx,top+height/2-3,15.5,{rot:Math.PI/2,color:'#222'});
}
maPlot(1166.7,430,694.3,294,-.345,-5.5,bGray,bDense,bRed,bBlue,bLabels,bLinks,'B Cell',1363,1129,33);
maPlot(1655.7,433,694.3,296.4,-.356,-5.5,tGray,tDense,tRed,tBlue,tLabels,tLinks,'Tumor Cell',1868,1618,32);

// ---------- Panel E / F shared axis styles
const bigAxisLine = {onZero:false,lineStyle:{color:'#000',width:2.5}};
function violinGrid(left,width,top,height,xMin,xMax,yMin,yMax,yTicks,yFmt,xLabelMargin,xTicks,ySize,xPad){
  return addGrid({left,top,width,height},
    {type:'value',min:xMin,max:xMax,position:'bottom',splitLine:{show:false},axisLine:bigAxisLine,
      axisTick:{customValues:xTicks,length:8,lineStyle:{color:'#000',width:2}},
      axisLabel:{customValues:xTicks,fontSize:29,color:'#000',fontFamily:FONT,margin:xLabelMargin,padding:[0,0,0,xPad],
        formatter:v=>groups[Math.round(v)]}},
    {type:'value',min:yMin,max:yMax,position:'left',splitLine:{show:false},axisLine:bigAxisLine,
      axisTick:{customValues:yTicks,length:6,lineStyle:{color:'#000',width:2}},
      axisLabel:{customValues:yTicks,fontSize:ySize,color:'#000',fontFamily:FONT,margin:10,padding:[5,0,0,0],formatter:yFmt}});
}
function violin(gi,cx,scores,widths,maxHalf,color){
  series.push({type:'custom',coordinateSystem:'cartesian2d',xAxisIndex:gi,yAxisIndex:gi,silent:true,z:3,data:[[cx]],
    renderItem:(p,api)=>{
      const L=[],R=[];
      scores.forEach((s,i)=>{L.push(api.coord([cx-widths[i]*maxHalf,s]));R.push(api.coord([cx+widths[i]*maxHalf,s]));});
      return {type:'polygon',shape:{points:R.concat(L.reverse()),smooth:.25},style:{fill:color,stroke:'#3a3a3a',lineWidth:2.2}};}});
}
const fmtInt = v=>(v<0?'\u2212':'')+Math.abs(v);
const ge1 = violinGrid(105.3,389.4,1263,306,-.6,1.623,-1.57,2.19,[-1,0,1,2],fmtInt,24,[0,1],28,0);
violin(ge1,0,cd8NonScore,cd8NonWidth,.449,violinBlue);
violin(ge1,1,cd8TdScore,cd8TdWidth,.449,violinRed);
segments(ge1,[[0,1.7,0,1.8],[0,1.8,1,1.8],[1,1.8,1,1.7]],'#222',1.4,4);
series.push({type:'scatter',xAxisIndex:ge1,yAxisIndex:ge1,symbolSize:1,silent:true,itemStyle:{color:'transparent'},
  data:[{name:'***',value:[.5,1.96]}],label:{show:true,position:'inside',formatter:p=>p.name,fontSize:24,color:'#000',fontFamily:FONT}});
const ge2 = violinGrid(595,390,1263,306,-.593,1.63,-1.29,3.22,[-1,0,1,2,3],fmtInt,24,[0,1],28,0);
violin(ge2,0,cd4NonScore,cd4NonWidth,.449,violinBlue);
violin(ge2,1,cd4TdScore,cd4TdWidth,.449,violinRed);
segments(ge2,[[0,2.18,0,2.29],[0,2.29,1,2.29],[1,2.29,1,2.18]],'#222',1.4,4);
series.push({type:'scatter',xAxisIndex:ge2,yAxisIndex:ge2,symbolSize:1,silent:true,itemStyle:{color:'transparent'},
  data:[{name:'****',value:[.5,2.5]}],label:{show:true,position:'inside',formatter:p=>p.name,fontSize:24,color:'#000',fontFamily:FONT}});
text('CD8+ T Cell',301,1237,31.5,{weight:'bold'});
text('CD4+ T Cell',789,1240,31.5,{weight:'bold'});
text('Exhaustion score',35,1400,27,{weight:'bold',rot:Math.PI/2,family:WIDE});

// ---------- Panel F
const gf = violinGrid(1276.4,534.6,1260.7,305.3,-.603,1.42,.0352,.2611,[.05,.1,.15,.2,.25],v=>v.toFixed(2),22,[0,1],33,6);
function halfViolin(gi,cx,scores,widths,box,color){
  const maxHalf=.375, half=.1875, boxW=.375;
  series.push({type:'custom',coordinateSystem:'cartesian2d',xAxisIndex:gi,yAxisIndex:gi,silent:true,z:3,data:[[cx]],
    renderItem:(p,api)=>{
      const c=(x,y)=>api.coord([x,y]);
      const pts=scores.map((s,i)=>c(cx-widths[i]*maxHalf,s));
      const line=(x1,y1,x2,y2,w)=>{const a=c(x1,y1),b=c(x2,y2);return {type:'line',shape:{x1:a[0],y1:a[1],x2:b[0],y2:b[1]},style:{stroke:'#3a3a3a',lineWidth:w}};};
      const a=c(cx,box[3]),b=c(cx+boxW,box[1]);
      return {type:'group',children:[
        {type:'polygon',shape:{points:pts,smooth:.2},style:{fill:color,stroke:'#3a3a3a',lineWidth:1.6,lineJoin:'round'}},
        line(cx,scores[0],cx,scores[scores.length-1],1.6),
        line(cx,box[4],cx+half,box[4],1.6),line(cx,box[0],cx+half,box[0],1.6),
        {type:'rect',shape:{x:a[0],y:a[1],width:b[0]-a[0],height:b[1]-a[1]},style:{fill:color,stroke:'#3a3a3a',lineWidth:1.4}},
        line(cx,box[2],cx+boxW,box[2],3)]};}});
}
halfViolin(gf,-.007,mhcNonScore,mhcNonWidth,mhcNonBox,violinBlue);
halfViolin(gf,.993,mhcTdScore,mhcTdWidth,mhcTdBox,violinRed);
text('MHC-II pathway activity',1575,1234,30.5,{weight:'bold',family:'Inter, sans-serif'});
text('UCell Score',1170,1400,28,{weight:'bold',rot:Math.PI/2,family:WIDE});

const chart = echarts.init(document.getElementById('c'),null,{width:2096,height:1624});
chart.setOption({animation:false,backgroundColor:'#fff',textStyle:{fontFamily:FONT},grid,xAxis,yAxis,series,graphic});
</script></body></html>
